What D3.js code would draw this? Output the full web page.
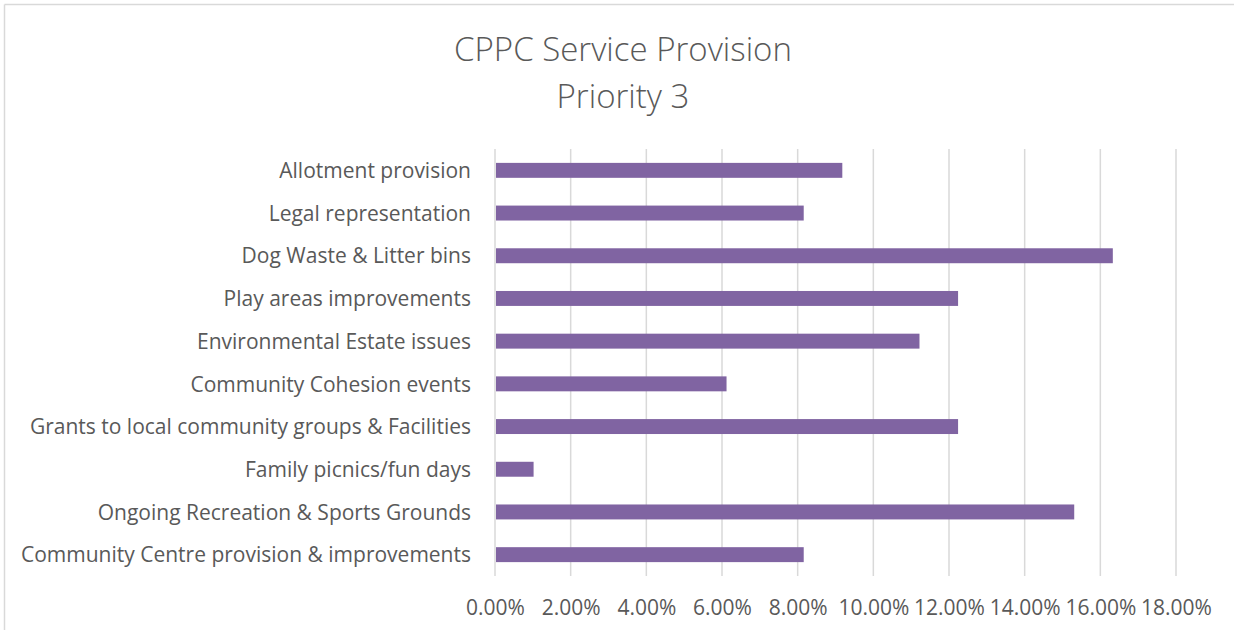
<!DOCTYPE html>
<html>
<head>
<meta charset="utf-8">
<script src="https://cdn.jsdelivr.net/npm/d3@7"></script>
<style>
  html, body { margin: 0; padding: 0; background: #fff; }
  svg { display: block; }
  text { font-family: "Open Sans", sans-serif; fill: #595959; }
</style>
</head>
<body>
<svg id="chart" width="1234" height="630"></svg>
<script>
const categories = [
  "Allotment provision",
  "Legal representation",
  "Dog Waste & Litter bins",
  "Play areas improvements",
  "Environmental Estate issues",
  "Community Cohesion events",
  "Grants to local community groups & Facilities",
  "Family picnics/fun days",
  "Ongoing Recreation & Sports Grounds",
  "Community Centre provision & improvements"
];
const values = [0.0918, 0.0816, 0.1633, 0.1224, 0.1122, 0.0612, 0.1224, 0.0102, 0.1531, 0.0816];
const xTicks = [0, 0.02, 0.04, 0.06, 0.08, 0.10, 0.12, 0.14, 0.16, 0.18];
const titleLines = ["CPPC Service Provision", "Priority 3"];

const svg = d3.select("#chart");
const W = 1234, H = 630;
const margin = { left: 495, right: 58, top: 149, bottom: 54 };

// outer border (top and left visible)
svg.append("line").attr("x1", 4.5).attr("x2", W).attr("y1", 4.5).attr("y2", 4.5)
  .attr("stroke", "#d9d9d9").attr("stroke-width", 1.5);
svg.append("line").attr("x1", 4.5).attr("x2", 4.5).attr("y1", 4.5).attr("y2", H)
  .attr("stroke", "#d9d9d9").attr("stroke-width", 1.5);

const x = d3.scaleLinear().domain([0, 0.18]).range([margin.left, W - margin.right]);
const y = d3.scaleBand().domain(categories).range([margin.top, H - margin.bottom]).paddingInner(0.65).paddingOuter(0.325);

// gridlines
svg.append("g").selectAll("line").data(xTicks.slice(1)).join("line")
  .attr("x1", d => x(d)).attr("x2", d => x(d))
  .attr("y1", margin.top).attr("y2", H - margin.bottom)
  .attr("stroke", "#d9d9d9").attr("stroke-width", 1.5);

// bars
svg.append("g").selectAll("rect").data(values).join("rect")
  .attr("x", x(0) + 1)
  .attr("y", (d, i) => y(categories[i]))
  .attr("width", d => x(d) - x(0) - 1)
  .attr("height", y.bandwidth())
  .attr("fill", "#8064a2");

// vertical axis line
svg.append("line").attr("x1", x(0)).attr("x2", x(0))
  .attr("y1", margin.top).attr("y2", H - margin.bottom)
  .attr("stroke", "#d9d9d9").attr("stroke-width", 1.5);

// y axis labels
const yAxis = d3.axisLeft(y).tickSize(0).tickPadding(24);
const gy = svg.append("g").attr("transform", `translate(${x(0)},1)`).call(yAxis);
gy.select(".domain").remove();
gy.selectAll("text").attr("font-size", 21).attr("fill", "#595959")
  .style("font-family", '"Open Sans", sans-serif');

// x axis labels
const xAxis = d3.axisBottom(x).tickValues(xTicks).tickFormat(d3.format(".2%")).tickSize(0).tickPadding(24);
const gx = svg.append("g").attr("transform", `translate(0,${H - margin.bottom})`).call(xAxis);
gx.select(".domain").remove();
gx.selectAll("text").attr("font-size", 21).attr("fill", "#595959")
  .style("font-family", '"Open Sans", sans-serif');

// title
svg.append("text").attr("x", 623).attr("y", 61).attr("text-anchor", "middle")
  .attr("font-size", 33).attr("font-weight", 300).text(titleLines[0]);
svg.append("text").attr("x", 623).attr("y", 108).attr("text-anchor", "middle")
  .attr("font-size", 33).attr("font-weight", 300).text(titleLines[1]);
</script>
</body>
</html>
